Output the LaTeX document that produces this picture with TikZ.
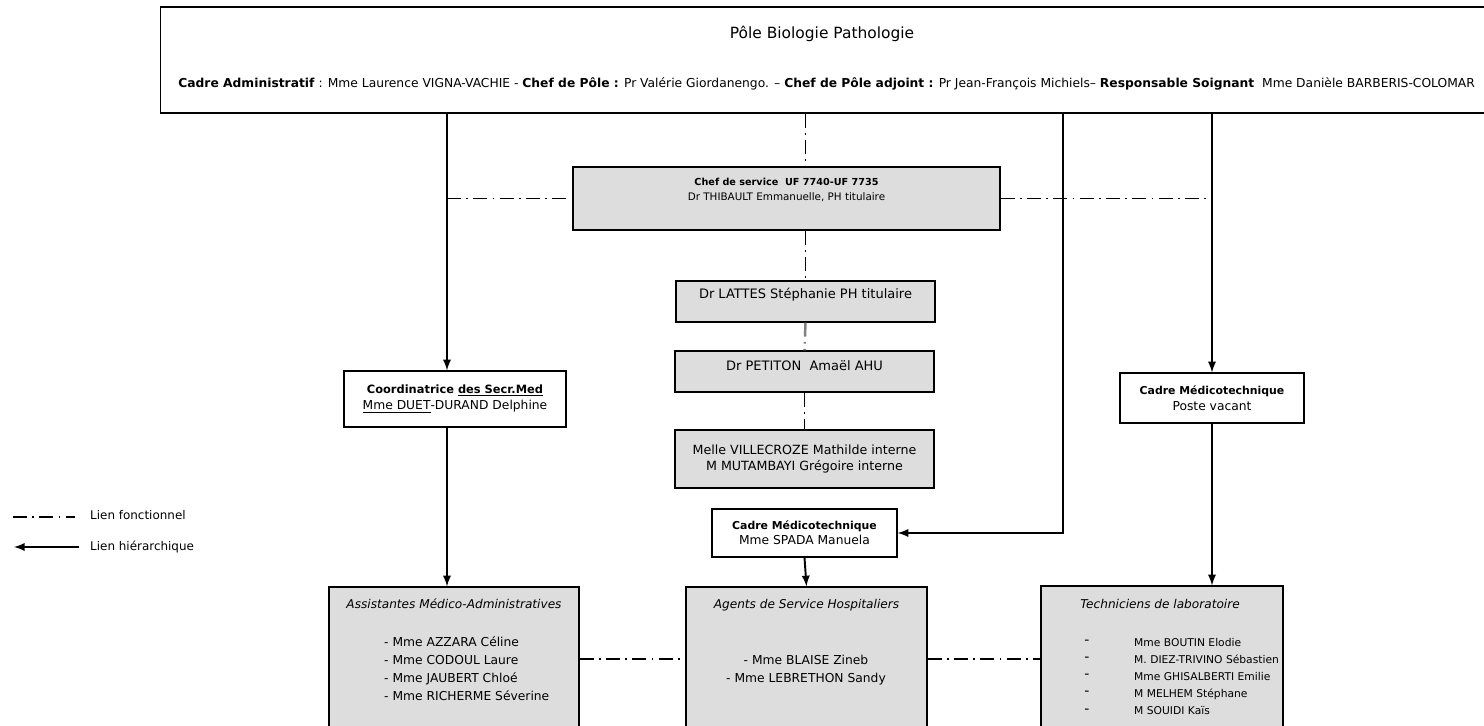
\documentclass[tikz,border=0pt]{standalone}
\usepackage{fontspec}
\setmainfont{DejaVu Sans}

\definecolor{boxgris}{RGB}{221,221,221}
\def\fs{\fontsize{7}{9}\selectfont}
\def\fsb#1{{\fontsize{6.2}{9}\selectfont\bfseries #1}}

\begin{document}
\begin{tikzpicture}[x=0.02cm, y=-0.02cm,
    boite/.style={draw, line width=0.7pt, inner sep=0pt},
    grise/.style={boite, fill=boxgris},
    fonct/.style={line width=0.8pt, dash pattern=on 8pt off 3pt on 1pt off 3pt},
    hier/.style={line width=1.1pt, -latex},
    txt/.style={font=\fs, align=center}]
      \clip (0,0) rectangle (1484,726);
      % boites
      \node[boite, line width=0.6pt, minimum width=26.7cm, minimum height=2.12cm] (pole) at (827.5,60) {};
      \node[grise, minimum width=8.54cm, minimum height=1.26cm] (chef) at (786.5,198.5) {};
      \node[grise, minimum width=5.18cm, minimum height=0.82cm] (lattes) at (805.5,301.5) {};
      \node[grise, minimum width=5.18cm, minimum height=0.82cm] (petiton) at (804.5,371.5) {};
      \node[grise, txt, font=\fontsize{7.2}{9.6}\selectfont, minimum width=5.18cm, minimum height=1.16cm] (ville) at (804.5,459)
        {Melle VILLECROZE Mathilde interne\\M MUTAMBAYI Grégoire interne};
      \node[boite, txt, font=\fontsize{7}{8.5}\selectfont, minimum width=3.7cm, minimum height=0.96cm] (spada) at (804.5,533)
        {\fsb{Cadre Médicotechnique}\\Mme SPADA Manuela};
      \node[boite, txt, font=\fontsize{7}{9.6}\selectfont, minimum width=4.44cm, minimum height=1.12cm] (coord) at (455,399)
        {{\fontsize{6.5}{9}\selectfont\bfseries Coordinatrice \underline{des Secr.Med}}\\\underline{Mme DUET}-DURAND Delphine};
      \node[boite, txt, minimum width=3.68cm, minimum height=1.0cm] (cadreR) at (1212,398)
        {\fsb{Cadre Médicotechnique}\\Poste vacant};
      \node[grise, minimum width=5.0cm, minimum height=2.88cm] (ama) at (454,659) {};
      \node[grise, minimum width=4.82cm, minimum height=2.88cm] (ash) at (806.5,659) {};
      \node[grise, minimum width=4.84cm, minimum height=2.92cm] (tech) at (1162,659) {};
      % textes
      \node[font=\fontsize{8.8}{10}\selectfont] (titre) at (822,34) {Pôle Biologie Pathologie};
      \node[anchor=west, font=\fontsize{7}{8}\selectfont, inner sep=0pt] (direction) at (178,84)
        {\textbf{Cadre Administratif} : Mme Laurence VIGNA-VACHIE - \textbf{Chef de Pôle :} Pr Valérie Giordanengo. – \textbf{Chef de Pôle adjoint :} Pr Jean-François Michiels– \textbf{Responsable Soignant}\ \ Mme Danièle BARBERIS-COLOMAR};
      \node[align=center, font=\fontsize{5.9}{8.5}\selectfont] (chefT) at (786.5,190)
        {{\fontsize{5.5}{8.5}\selectfont\bfseries Chef de service\ \ UF 7740-UF 7735}\\Dr THIBAULT Emmanuelle, PH titulaire};
      \node[txt, font=\fontsize{7.4}{9}\selectfont] (lattesT) at (805.5,295) {Dr LATTES Stéphanie PH titulaire};
      \node[txt, font=\fontsize{7.4}{9}\selectfont] (petitonT) at (804.5,366) {Dr PETITON\ \ Amaël AHU};
      \node[txt, font=\fontsize{6.9}{9}\selectfont\itshape] (amaT) at (454,604) {Assistantes Médico-Administratives};
      \node[anchor=west, align=left, font=\fontsize{7}{10.2}\selectfont] (amaL) at (378,669)
        {- Mme AZZARA Céline\\- Mme CODOUL Laure\\- Mme JAUBERT Chloé\\- Mme RICHERME Séverine};
      \node[txt, font=\fontsize{6.9}{9}\selectfont\itshape] (ashT) at (806.5,605) {Agents de Service Hospitaliers};
      \node[align=center, font=\fontsize{7}{10.2}\selectfont] (ashL) at (806,670)
        {- Mme BLAISE Zineb\\- Mme LEBRETHON Sandy};
      \node[txt, font=\fontsize{6.9}{9}\selectfont\itshape] (techT) at (1160,604) {Techniciens de laboratoire};
      \node[align=center, font=\fontsize{8}{9.8}\selectfont] (techD) at (1087,676.5) {-\\-\\-\\-\\-};
      \node[anchor=west, align=left, font=\fontsize{6.1}{9.8}\selectfont] (techL) at (1128,676.5)
        {Mme BOUTIN Elodie\\M. DIEZ-TRIVINO Sébastien\\Mme GHISALBERTI Emilie\\M MELHEM Stéphane\\M SOUIDI Kaïs};
      % legende
      \coordinate (lf1) at (13,517);
      \coordinate (lf2) at (75,517);
      \coordinate (lh1) at (79,547);
      \coordinate (lh2) at (14,547);
      \node[anchor=west, font=\fontsize{6.8}{8}\selectfont] (legF) at (84,515) {Lien fonctionnel};
      \node[anchor=west, font=\fontsize{6.8}{8}\selectfont] (legH) at (84,547) {Lien hiérarchique};
      \draw[fonct] (lf1) -- (lf2);
      \draw[hier] (lh1) -- (lh2);
      % liens
      \coordinate (xA) at (447,0);
      \coordinate (xB) at (1063,0);
      \draw[hier] (xA |- pole.south) -- (xA |- coord.north);
      \draw[hier] (xA |- coord.south) -- (xA |- ama.north);
      \draw[fonct] (xA |- chef.west) -- (chef.west);
      \draw[fonct] (lattes.north |- pole.south) -- (lattes.north |- chef.north);
      \draw[fonct] (lattes.north |- chef.south) -- (lattes.north);
      \draw[fonct, gray, line width=1.4pt] (lattes.south) -- (petiton.north);
      \draw[fonct] (petiton.south) -- (ville.north);
      \draw[hier] (xB |- pole.south) |- (spada.east);
      \draw[hier] (pole.south -| cadreR.north) -- (cadreR.north);
      \draw[fonct] (chef.east) -- (chef.east -| cadreR.north);
      \draw[hier] (cadreR.south) -- (cadreR.south |- tech.north);
      \draw[hier] (spada.south) -- (ash.north);
      \draw[fonct] (ama.east) -- (ash.west);
      \draw[fonct] (ash.east) -- (tech.west);
\end{tikzpicture}
\end{document}
